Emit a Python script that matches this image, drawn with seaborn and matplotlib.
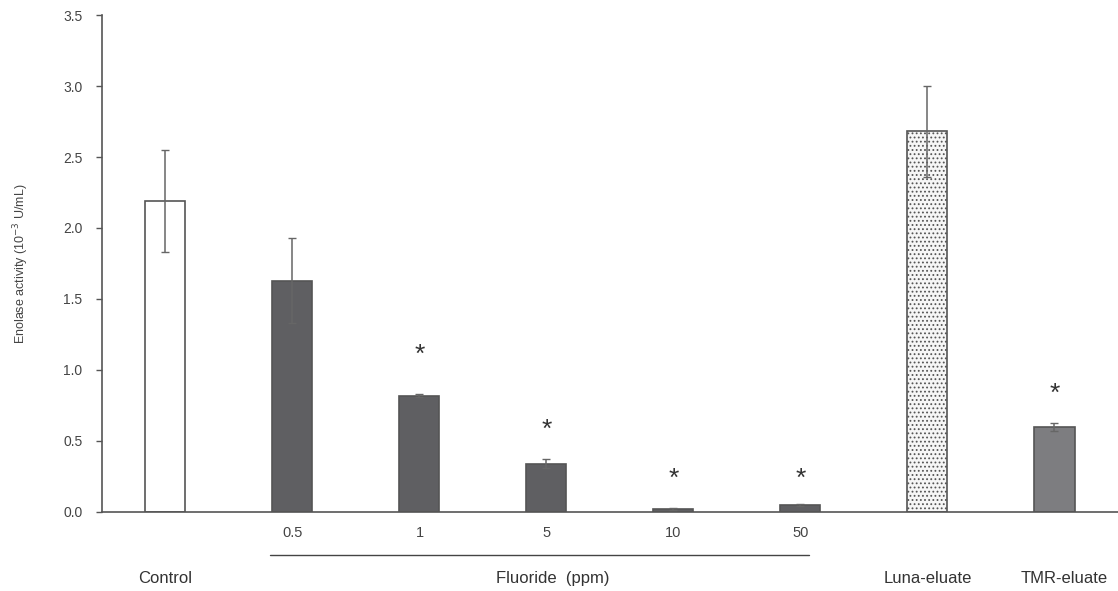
# Enolase activity bar chart
import numpy as np
import pandas as pd
import seaborn as sns
import matplotlib.pyplot as plt
import matplotlib.transforms as mtrans

# Datos
groups = ["Control", "0.5", "1", "5", "10", "50", "Luna-eluate", "TMR-eluate"]
activity = [2.19, 1.63, 0.82, 0.34, 0.02, 0.05, 2.68, 0.60]
sd = [0.36, 0.30, 0.01, 0.03, 0.005, 0.005, 0.32, 0.03]
star_groups = ["1", "5", "10", "50", "TMR-eluate"]
star_heights = [1.11, 0.58, 0.23, 0.23, 0.83]
tick_labels = ["", "0.5", "1", "5", "10", "50", "", ""]
group_labels = ["Control", "Fluoride  (ppm)", "Luna-eluate", "TMR-eluate"]
group_label_pos = [0, 3.05, 6, 7.08]

bar_colors = ["#ffffff", "#5e5f63", "#5e5f63", "#5e5f63", "#5e5f63", "#5e5f63",
              "#f6f6f6", "#7c7d80"]

df = pd.DataFrame({"group": groups, "activity": activity, "sd": sd})

sns.set_style("white")
plt.rcParams["font.family"] = ["Liberation Sans", "DejaVu Sans"]
plt.rcParams["hatch.color"] = "#c0c0c0"
plt.rcParams["hatch.linewidth"] = 0.8

fig = plt.figure(figsize=(11.18, 5.91), dpi=100)
ax = fig.add_axes([0.0912, 0.1337, 0.9088, 0.8409])

sns.barplot(data=df, x="group", y="activity", hue="group", palette=bar_colors,
            order=groups, hue_order=groups, width=0.315, legend=False,
            edgecolor="#555555", linewidth=1.2, ax=ax)

# Rayado de puntos para Luna-eluate
ax.patches[groups.index("Luna-eluate")].set_hatch("....")

# Barras de error
ax.errorbar(np.arange(len(groups)), df["activity"], yerr=df["sd"], fmt="none",
            ecolor="#666666", elinewidth=1.1, capsize=3, capthick=1.0, zorder=5)

# Asteriscos
for g, h in zip(star_groups, star_heights):
    ax.text(groups.index(g), h, "*", ha="center", va="center",
            fontsize=19, color="#333333")

# Ejes
ax.set_xlim(-0.5, 7.5)
ax.set_ylim(0, 3.5)
ax.set_yticks(np.arange(0, 3.51, 0.5))
ax.set_yticklabels([f"{v:.1f}" for v in np.arange(0, 3.51, 0.5)],
                   fontsize=10, color="#444444")
ax.set_xticks(range(len(groups)))
ax.set_xticklabels(tick_labels, fontsize=10.5, color="#444444")
ax.tick_params(axis="x", length=0, pad=10)
ax.tick_params(axis="y", length=4, width=1, color="#555555", direction="out",
               left=True, pad=10)
ax.set_xlabel("")
ax.set_ylabel("Enolase activity (10$^{-3}$ U/mL)", fontsize=9,
              color="#444444", labelpad=23)
sns.despine(ax=ax)
for s in ["left", "bottom"]:
    ax.spines[s].set_color("#555555")
    ax.spines[s].set_linewidth(1.2)

# Etiquetas de grupo y linea de fluoruro
trans = mtrans.blended_transform_factory(ax.transData, ax.transAxes)
ax.plot([0.82, 5.07], [-0.0866, -0.0866], color="#444444", lw=1.0,
        transform=trans, clip_on=False)
for lab, xp in zip(group_labels, group_label_pos):
    ax.text(xp, -0.133, lab, ha="center", va="center", fontsize=12,
            color="#333333", transform=trans)

fig.savefig("out.png", dpi=100)
